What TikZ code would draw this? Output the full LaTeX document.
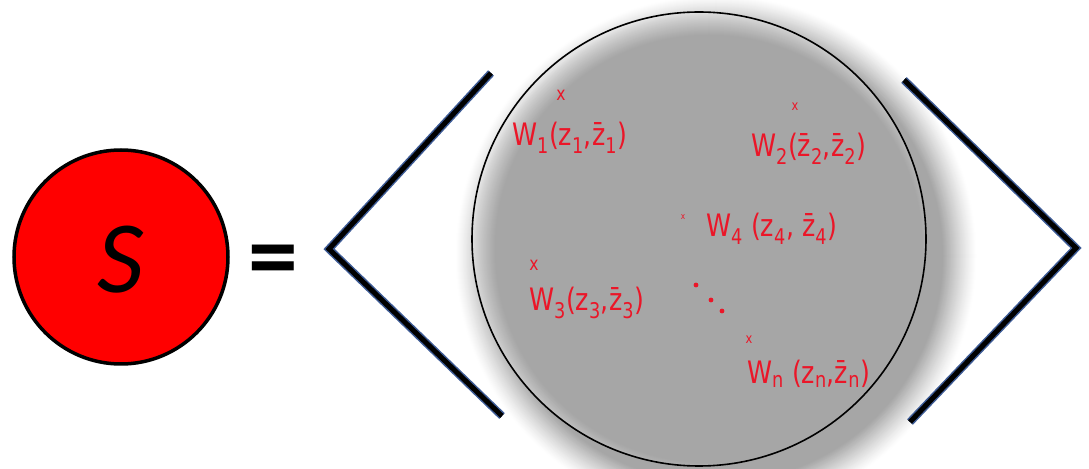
\documentclass[tikz,border=0pt]{standalone}
\usepackage{fontspec}
\setmainfont{Carlito}
\newfontfamily\inkfont[FakeStretch=0.82]{DejaVu Sans}
\definecolor{redfill}{RGB}{255,0,0}
\definecolor{inkred}{RGB}{235,22,40}
\definecolor{disc}{RGB}{166,166,166}
\definecolor{discedge}{RGB}{228,228,228}
\definecolor{brblue}{RGB}{62,92,150}
\newcommand\zbar{z̄}
\tikzset{
  ink/.style={text=inkred, inner sep=0pt, font=\inkfont\fontsize{31}{31}\selectfont},
  xmark/.style={text=inkred, inner sep=0pt, font=\inkfont\fontsize{19}{19}\selectfont},
  bracketout/.style={draw=brblue, line width=8bp, line join=miter},
  bracketin/.style={draw=black, line width=5bp, line join=miter},
}
\begin{document}
\begin{tikzpicture}[x=1bp,y=-1bp]
\useasboundingbox (0,0) rectangle (1089,469);
% red circle S
\draw[fill=redfill, line width=3.5bp] (121,257) circle (107);
\node[anchor=base, inner sep=0pt, font=\fontsize{103}{103}\selectfont\itshape] (S) at (121,293) {S};
\node[anchor=base, inner sep=0pt, font=\fontsize{100}{100}\selectfont\bfseries] (eq) at (273,290) {=};
% soft shadow, stepped
\foreach \i in {0,...,34}{
  \pgfmathsetmacro\rr{261-\i}
  \pgfmathsetmacro\pc{100*(\i/34)^1.2}
  \fill[disc!\pc!white] (716,256) circle (\rr);
}
% disc with inner light edge
\begin{scope}
\clip (699,239) circle (227);
\fill[discedge] (699,239) circle (227);
\foreach \i in {0,...,24}{
  \pgfmathsetmacro\rr{238-\i}
  \pgfmathsetmacro\pc{100*(\i/24)^0.8}
  \fill[disc!\pc!discedge] (709,249) circle (\rr);
}
\end{scope}
\draw[line width=1.6bp] (699,239) circle (227);
% left bracket
\coordinate (lt) at (491,73);
\coordinate (lv) at (329,249);
\coordinate (lb) at (502,416);
\draw[bracketout] (lt) -- (lv) -- (lb);
\draw[bracketin] (lt) -- (lv) -- (lb);
% right bracket
\coordinate (rt) at (904,80);
\coordinate (rv) at (1076,248);
\coordinate (rb) at (910,422);
\draw[bracketout] (rt) -- (rv) -- (rb);
\draw[bracketin] (rt) -- (rv) -- (rb);
% labels
\node[xmark] (x1) at (561,95) {x};
\node[ink, anchor=base west] (w1) at (512,146) {W\textsubscript{1}(z\textsubscript{1},\zbar\textsubscript{1})};
\node[xmark, font=\inkfont\fontsize{14}{14}\selectfont] (x2) at (795,107) {x};
\node[ink, anchor=base west] (w2) at (751,157) {W\textsubscript{2}(\zbar\textsubscript{2},\zbar\textsubscript{2})};
\node[xmark, font=\inkfont\fontsize{9}{9}\selectfont] (x4) at (683,217) {x};
\node[ink, anchor=base west] (w4) at (706,237) {W\textsubscript{4} (z\textsubscript{4}, \zbar\textsubscript{4})};
\node[xmark] (x3) at (534,265) {x};
\node[ink, anchor=base west] (w3) at (529,311) {W\textsubscript{3}(z\textsubscript{3},\zbar\textsubscript{3})};
\node[xmark, font=\inkfont\fontsize{14}{14}\selectfont] (xn) at (749,340) {x};
\node[ink, anchor=base west] (wn) at (747,384) {W\textsubscript{n} (z\textsubscript{n},\zbar\textsubscript{n})};
\fill[inkred] (696,285) circle (2.4) (711,300) circle (2.4) (722,311) circle (2.4);
\end{tikzpicture}
\end{document}
